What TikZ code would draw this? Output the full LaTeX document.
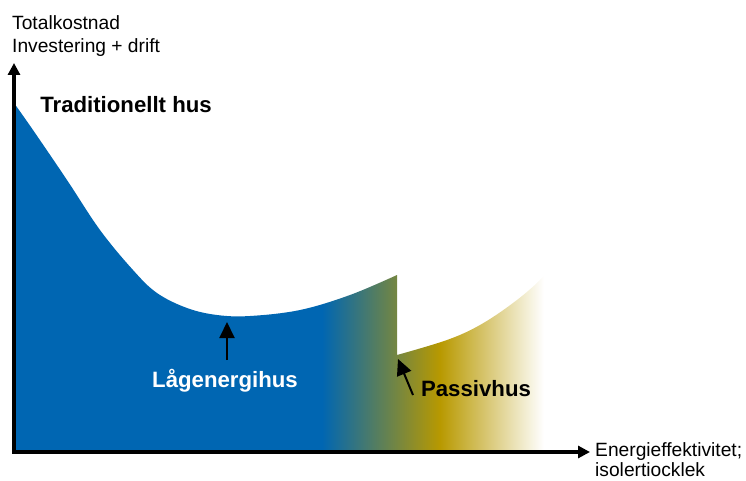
\documentclass[tikz,border=0pt]{standalone}
\usepackage{fontspec}
\setmainfont{Liberation Sans}
\usetikzlibrary{positioning, arrows.meta}
\definecolor{lagblue}{RGB}{0,102,178}
\definecolor{passivgold}{RGB}{184,153,0}
\pgfdeclarehorizontalshading{energyfade}{100bp}{color(0bp)=(lagblue); color(53.2bp)=(lagblue); color(64bp)=(passivgold); color(73.5bp)=(white); color(100bp)=(white)}

\begin{document}
\begin{tikzpicture}[x=1pt, y=-1pt,
        axis/.style={line width=3.5pt, {Triangle[length=12pt, width=12pt]}-{Triangle[length=12pt, width=12pt]}},
        pointer/.style={line width=2pt, -{Triangle[length=16pt, width=15pt]}},
        axis label/.style={font=\fontsize{19.2}{23}\selectfont, inner sep=0pt, anchor=base west},
        house label/.style={font=\fontsize{22.2}{26}\selectfont\bfseries, inner sep=0pt, anchor=base}
    ]
    \useasboundingbox (0,0) rectangle (746,481);
    \begin{scope}
        \clip (14,452) -- plot[smooth, tension=0.6] coordinates {(14,103) (33,130) (67,180) (100,230) (133,270) (157,293) (187,308) (217,315) (250,316) (300,310) (350,295) (397,275)}
            -- plot[smooth, tension=0.6] coordinates {(397,355) (447,340) (480,325) (513,303) (540,280) (560,256)}
            -- (560,452) -- cycle;
        \shade[shading=energyfade] (14,100) rectangle (560,452);
    \end{scope}
    \coordinate (Origin) at (14,452);
    \coordinate (YEnd) at (14,63);
    \coordinate (XEnd) at (590,452);
    \draw[axis] (YEnd) -- (Origin) -- (XEnd);
    \coordinate (LagTail) at (227,360);
    \coordinate (LagTip) at (227,322);
    \draw[pointer] (LagTail) -- (LagTip);
    \coordinate (PassTail) at (413,395);
    \coordinate (PassTip) at (398,359);
    \draw[pointer] (PassTail) -- (PassTip);
    \node[house label] (Trad) at (126,113) {Traditionellt hus};
    \node[house label, text=white] (Lag) at (225,387) {Lågenergihus};
    \node[house label] (Pass) at (476,396) {Passivhus};
    \node[axis label] (Total) at (12,30) {Totalkostnad};
    \node[axis label] (Invest) at (12,53) {Investering + drift};
    \node[axis label] (Energy) at (595,456) {Energieffektivitet;};
    \node[axis label] (Isol) at (595,476) {isolertiocklek};
\end{tikzpicture}
\end{document}
